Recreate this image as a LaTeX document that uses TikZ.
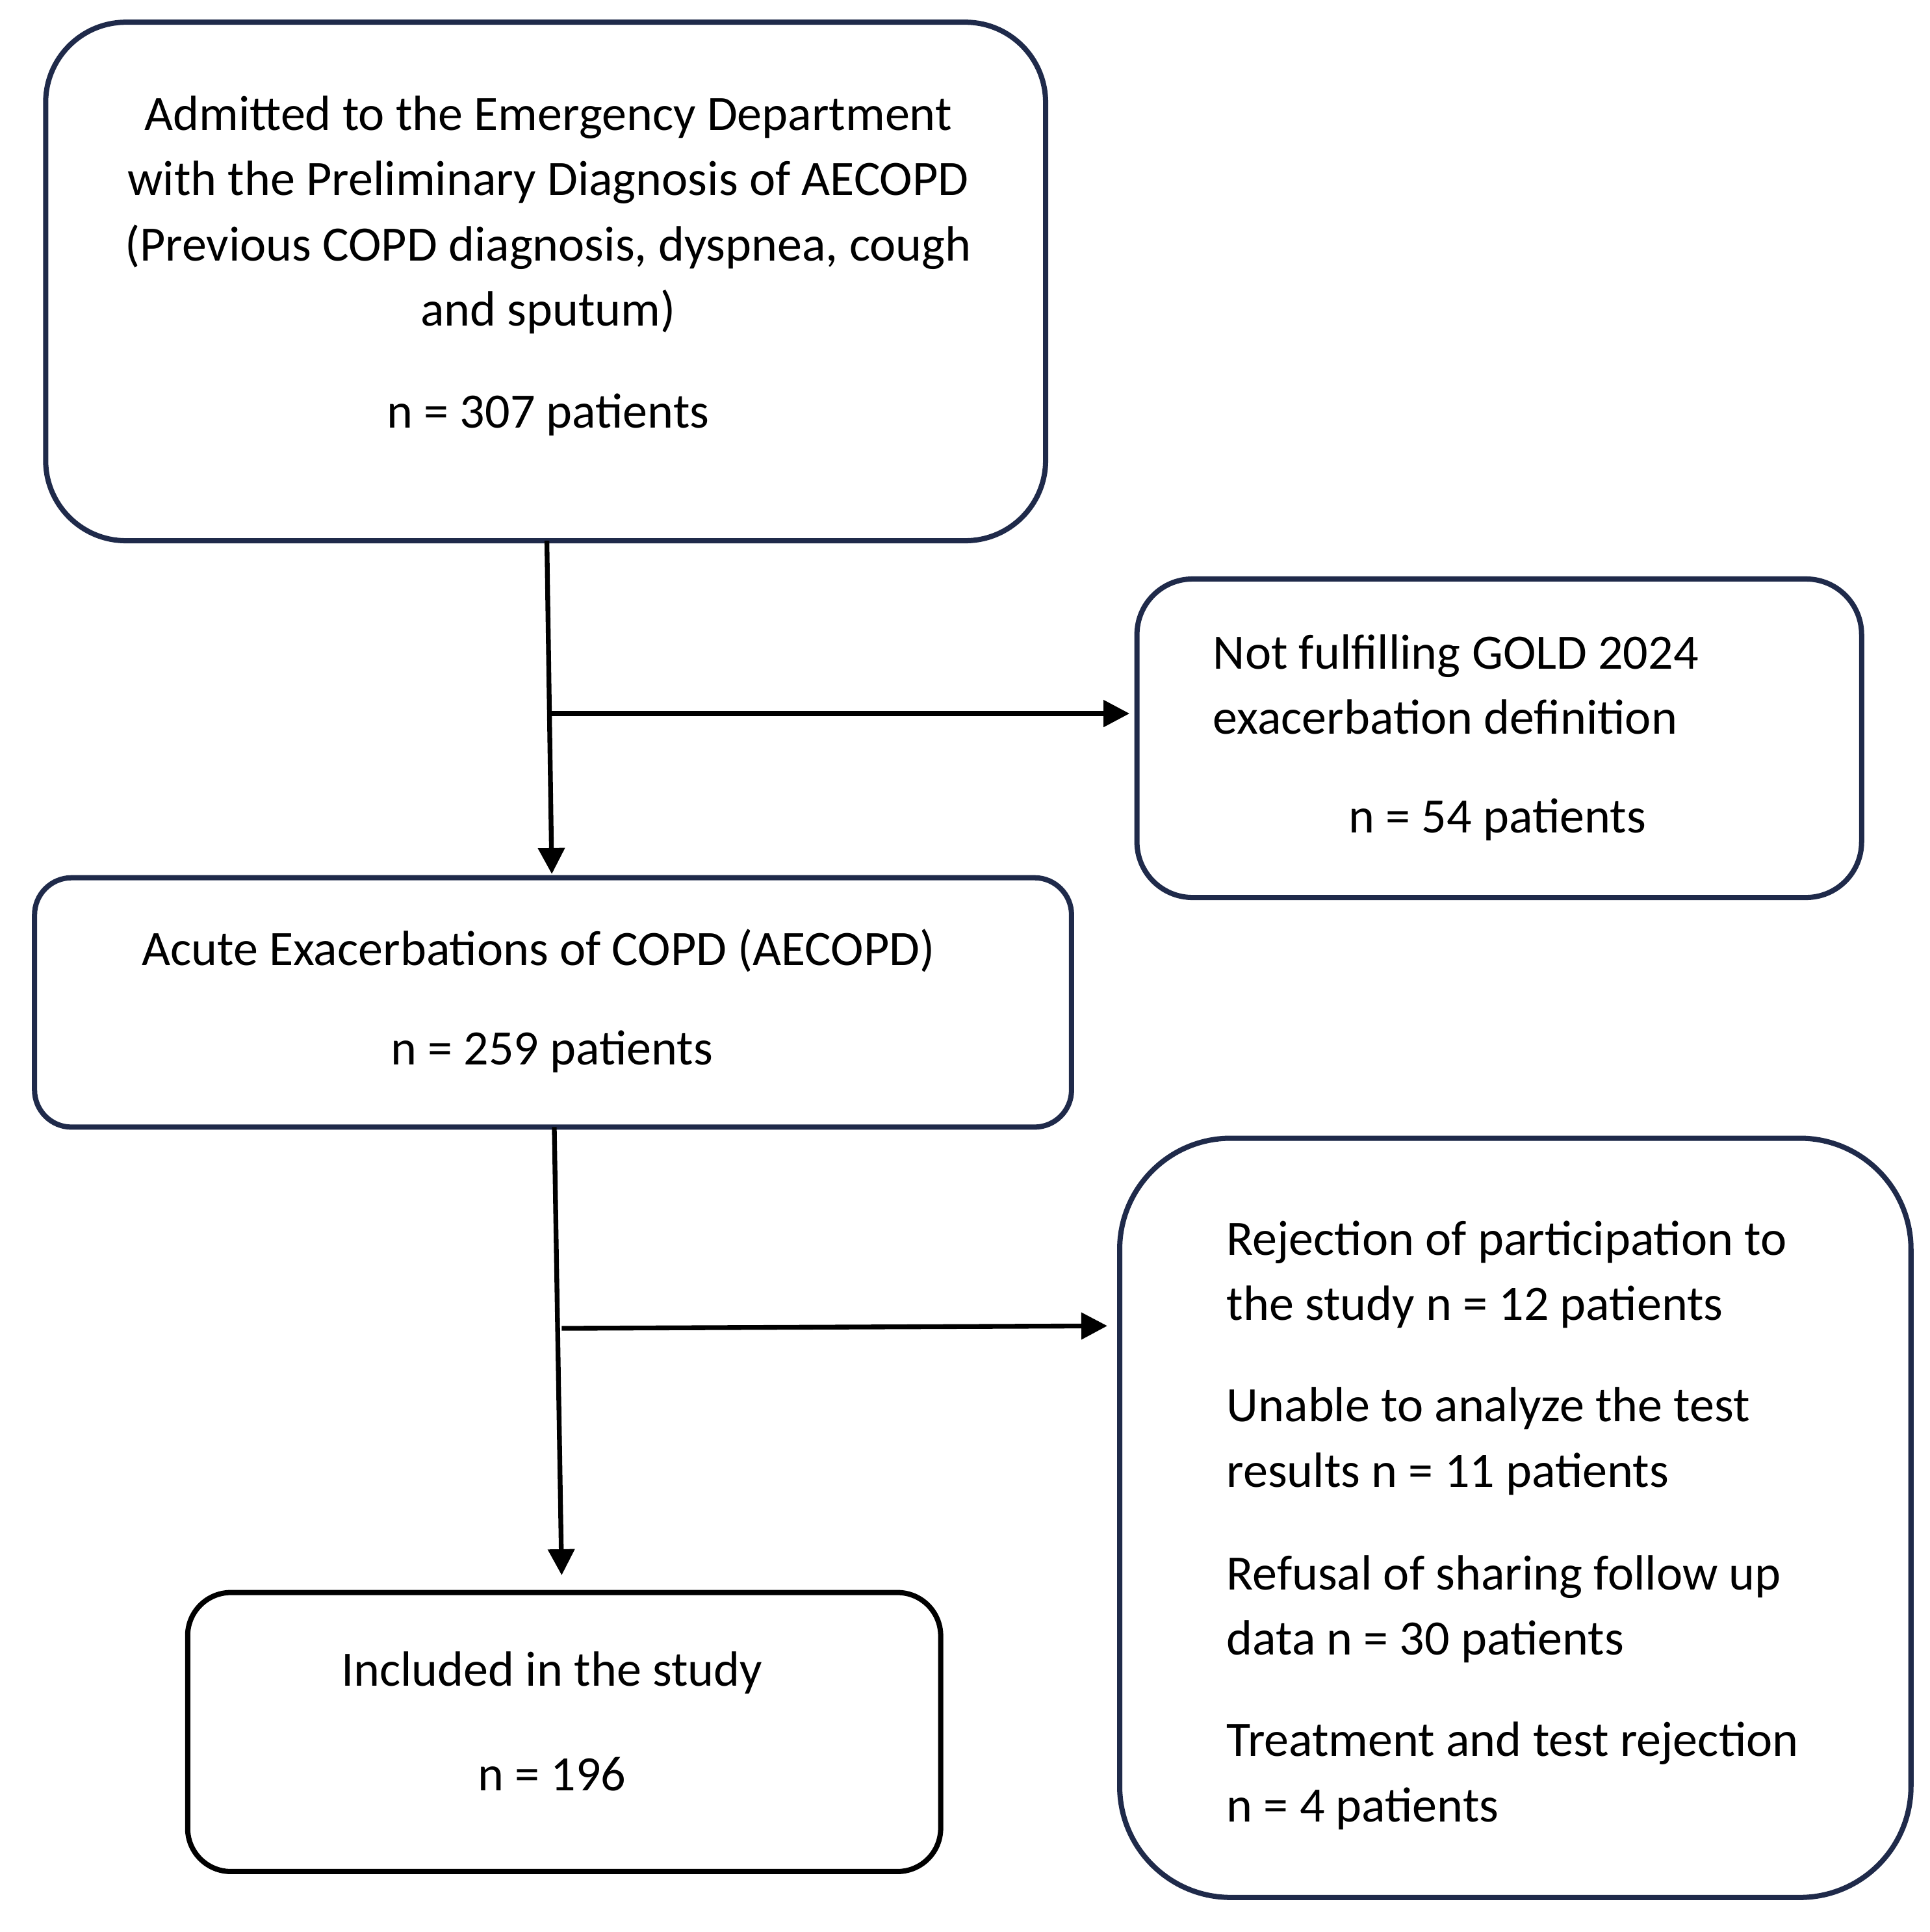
\documentclass[tikz,border=0pt]{standalone}
\usepackage{fontspec}
\setmainfont{Carlito}
\usetikzlibrary{arrows.meta}
\definecolor{navy}{HTML}{1F2A4A}
\tikzset{
 box/.style={draw=navy,line width=1.2pt},
 txt/.style={inner sep=0pt,font=\fontsize{11.4}{15.05}\selectfont},
 arr/.style={line width=1.1pt,-{Triangle[length=6pt,width=6pt]}},
 ln/.style={line width=1.1pt}
}
\begin{document}
\begin{tikzpicture}
\useasboundingbox (0,0) rectangle (15.63,-15.65);
\draw[box,rounded corners=0.65cm] (0.37,-0.18) rectangle (8.47,-4.38);
\draw[box,rounded corners=0.45cm] (9.21,-4.69) rectangle (15.08,-7.27);
\draw[box,rounded corners=0.3cm] (0.28,-7.11) rectangle (8.68,-9.13);
\draw[box,rounded corners=0.9cm] (9.07,-9.22) rectangle (15.48,-15.37);
\draw[box,draw=black,rounded corners=0.35cm] (1.52,-12.90) rectangle (7.62,-15.16);
\node[txt,align=center] (t1) at (4.44,-1.74) {Admitted to the Emergency Department\\with the Preliminary Diagnosis of AECOPD\\(Previous COPD diagnosis, dyspnea, cough\\and sputum)};
\node[txt] (t1n) at (4.44,-3.36) {n = 307 patients};
\node[txt,align=left,anchor=west] (t2) at (9.82,-5.545) {Not fulfilling GOLD 2024\\exacerbation definition};
\node[txt] (t2n) at (12.13,-6.64) {n = 54 patients};
\node[txt] (t3) at (4.36,-7.70) {Acute Exacerbations of COPD (AECOPD)};
\node[txt] (t3n) at (4.47,-8.52) {n = 259 patients};
\node[txt,align=left,anchor=west] (t4a) at (9.93,-10.325) {Rejection of participation to\\the study n = 12 patients};
\node[txt,align=left,anchor=west] (t4b) at (9.93,-11.675) {Unable to analyze the test\\results n = 11 patients};
\node[txt,align=left,anchor=west] (t4c) at (9.93,-13.035) {Refusal of sharing follow up\\data n = 30 patients};
\node[txt,align=left,anchor=west] (t4d) at (9.93,-14.385) {Treatment and test rejection\\n = 4 patients};
\node[txt] (t5) at (4.47,-13.55) {Included in the study};
\node[txt] (t5n) at (4.47,-14.37) {n = 196};
\coordinate (a1) at (4.43,-4.38); \coordinate (a2) at (4.47,-7.08);
\coordinate (b1) at (4.43,-5.78); \coordinate (b2) at (9.15,-5.78);
\coordinate (c1) at (4.49,-9.13); \coordinate (c2) at (4.55,-12.76);
\coordinate (d1) at (4.55,-10.76); \coordinate (d2) at (8.97,-10.74);
\draw[arr] (a1) -- (a2);
\draw[arr] (b1) -- (b2);
\draw[arr] (c1) -- (c2);
\draw[arr] (d1) -- (d2);
\end{tikzpicture}
\end{document}
